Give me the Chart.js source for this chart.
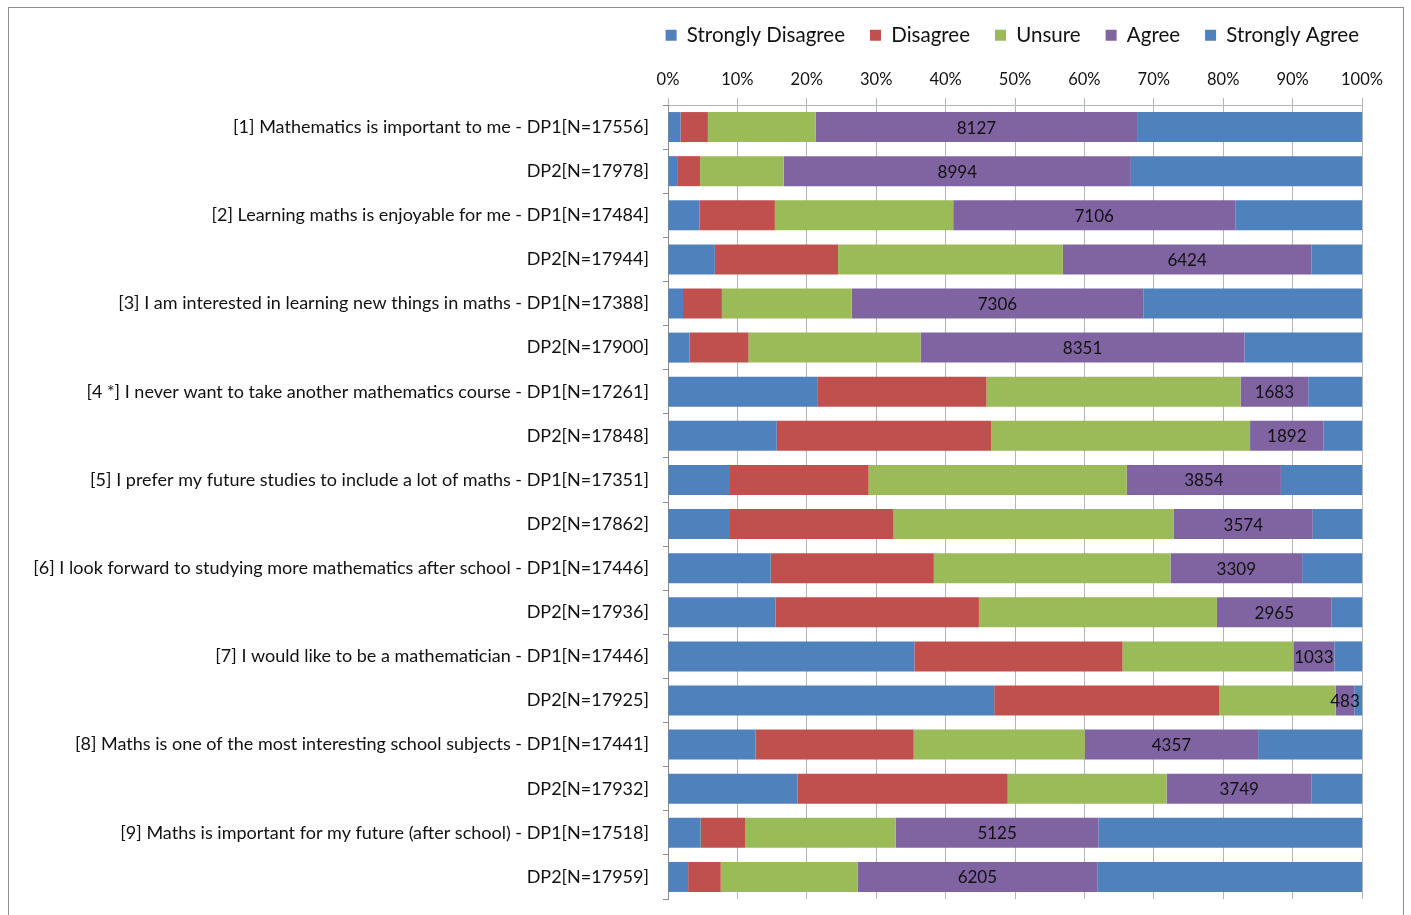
<!DOCTYPE html>
<html lang="en">

<head>
    <meta charset="UTF-8">
    <title>Attitudes to mathematics - DP1 / DP2</title>
    <script src="https://cdn.jsdelivr.net/npm/chart.js"></script>
    <style>
        body {
            margin: 0;
            background: #ffffff;
        }

        .moldura {
            position: absolute;
            left: 8px;
            top: 7px;
            width: 1396px;
            height: 930px;
            border: 1px solid #8e8e8e;
            box-sizing: border-box;
        }

        #grafico {
            position: absolute;
            left: 0;
            top: 0;
        }
    </style>
</head>

<body>
    <div class="moldura"></div>
    <canvas id="grafico" width="1411" height="915"></canvas>
</body>

</html>

<script>
    const perguntas = [
        '[1] Mathematics is important to me - DP1[N=17556]',
        'DP2[N=17978]',
        '[2] Learning maths is enjoyable for me - DP1[N=17484]',
        'DP2[N=17944]',
        '[3] I am interested in learning new things in maths - DP1[N=17388]',
        'DP2[N=17900]',
        '[4 *] I never want to take another mathematics course - DP1[N=17261]',
        'DP2[N=17848]',
        '[5] I prefer my future studies to include a lot of maths - DP1[N=17351]',
        'DP2[N=17862]',
        '[6] I look forward to studying more mathematics after school - DP1[N=17446]',
        'DP2[N=17936]',
        '[7] I would like to be a mathematician - DP1[N=17446]',
        'DP2[N=17925]',
        '[8] Maths is one of the most interesting school subjects - DP1[N=17441]',
        'DP2[N=17932]',
        '[9] Maths is important for my future (after school) - DP1[N=17518]',
        'DP2[N=17959]'
    ];

    const respostas = ['Strongly Disagree', 'Disagree', 'Unsure', 'Agree', 'Strongly Agree'];

    // number of students per answer
    const discordoTotal = [316, 237, 797, 1211, 376, 555, 3728, 2797, 1527, 1572, 2582, 2780, 6193, 8425, 2198, 3344, 823, 521];
    const discordo = [693, 595, 1895, 3185, 974, 1522, 4194, 5515, 3488, 4233, 4100, 5255, 5234, 5808, 3976, 5433, 1121, 844];
    const indeciso = [2730, 2165, 4493, 5814, 3252, 4439, 6318, 6657, 6455, 7216, 5949, 6152, 4292, 3011, 4299, 4106, 3801, 3538];
    const concordo = [8127, 8994, 7106, 6424, 7306, 8351, 1683, 1892, 3854, 3574, 3309, 2965, 1033, 483, 4357, 3749, 5125, 6205];
    const concordoTotal = [5690, 5987, 3193, 1310, 5480, 3033, 1338, 987, 2027, 1267, 1506, 784, 694, 198, 2611, 1300, 6648, 6851];

    const ticksX = ['0%', '10%', '20%', '30%', '40%', '50%', '60%', '70%', '80%', '90%', '100%'];

    const cores = ['#4f81bd', '#c0504d', '#9bbb59', '#8064a2', '#4f81bd'];

    const fonte = 'Lato, "Open Sans", sans-serif';

    plotarGrafico();

    function plotarGrafico() {
        let series = [discordoTotal, discordo, indeciso, concordo, concordoTotal];

        // 100% stacked: each answer as a share of the row total
        let totais = perguntas.map((p, i) => series.reduce((soma, s) => soma + s[i], 0));

        let datasets = series.map((s, k) => ({
            label: respostas[k],
            data: s.map((v, i) => v / totais[i] * 100),
            contagem: s,
            backgroundColor: cores[k],
            borderWidth: 0,
            barPercentage: 0.68,
            categoryPercentage: 1
        }));

        // counts written in the middle of the "Agree" bars
        const rotulosAgree = {
            id: 'rotulosAgree',
            afterDatasetsDraw(chart) {
                const ctx = chart.ctx;
                const meta = chart.getDatasetMeta(3);
                const ds = chart.data.datasets[3];
                ctx.save();
                ctx.font = '17px ' + fonte;
                ctx.fillStyle = '#111111';
                ctx.textAlign = 'center';
                ctx.textBaseline = 'middle';
                meta.data.forEach((barra, i) => {
                    let meio = (barra.x + barra.base) / 2;
                    ctx.fillText(String(ds.contagem[i]), meio, barra.y + 1);
                });
                ctx.restore();
            }
        };

        // fixed legend height, and legend pushed a bit to the right
        const ajusteLegenda = {
            id: 'ajusteLegenda',
            beforeInit(chart) {
                const fitOriginal = chart.legend.fit;
                chart.legend.fit = function () {
                    fitOriginal.bind(chart.legend)();
                    this.height = 58;
                };
            },
            afterLayout(chart) {
                chart.legend.right += 22;
            }
        };

        const config = {
            type: 'bar',
            data: {
                labels: perguntas,
                datasets: datasets
            },
            plugins: [rotulosAgree, ajusteLegenda],
            options: {
                indexAxis: 'y',
                responsive: false,
                animation: false,
                layout: {
                    padding: { left: 0, right: 49, top: 0, bottom: 16 }
                },
                plugins: {
                    legend: {
                        position: 'top',
                        align: 'end',
                        labels: {
                            boxWidth: 11,
                            boxHeight: 11,
                            padding: 25,
                            color: '#111111',
                            font: { family: fonte, size: 20.5 }
                        }
                    },
                    tooltip: { enabled: false }
                },
                scales: {
                    x: {
                        position: 'top',
                        stacked: true,
                        min: 0,
                        max: 100,
                        afterFit(scale) {
                            scale.height = 47;
                        },
                        afterBuildTicks(scale) {
                            scale.ticks = ticksX.map((t, i) => ({ value: i * 10 }));
                        },
                        ticks: {
                            color: '#111111',
                            padding: 8,
                            font: { family: fonte, size: 16.5 },
                            callback: (v, i) => ticksX[i]
                        },
                        grid: {
                            color: '#b4b4b4',
                            tickLength: 7,
                            lineWidth: 1
                        },
                        border: { color: '#b4b4b4' }
                    },
                    y: {
                        stacked: true,
                        afterFit(scale) {
                            scale.width = 668;
                            // no extra room above/below for the first and last label
                            scale.paddingTop = 0;
                            scale.paddingBottom = 0;
                        },
                        ticks: {
                            color: '#111111',
                            padding: 14,
                            autoSkip: false,
                            font: { family: fonte, size: 18 }
                        },
                        grid: {
                            drawOnChartArea: false,
                            color: '#8c8c8c',
                            tickLength: 5,
                            offset: true
                        },
                        border: { color: '#8c8c8c' }
                    }
                }
            }
        };

        let myChart = new Chart(
            document.getElementById('grafico'),
            config
        );
    }
</script>
